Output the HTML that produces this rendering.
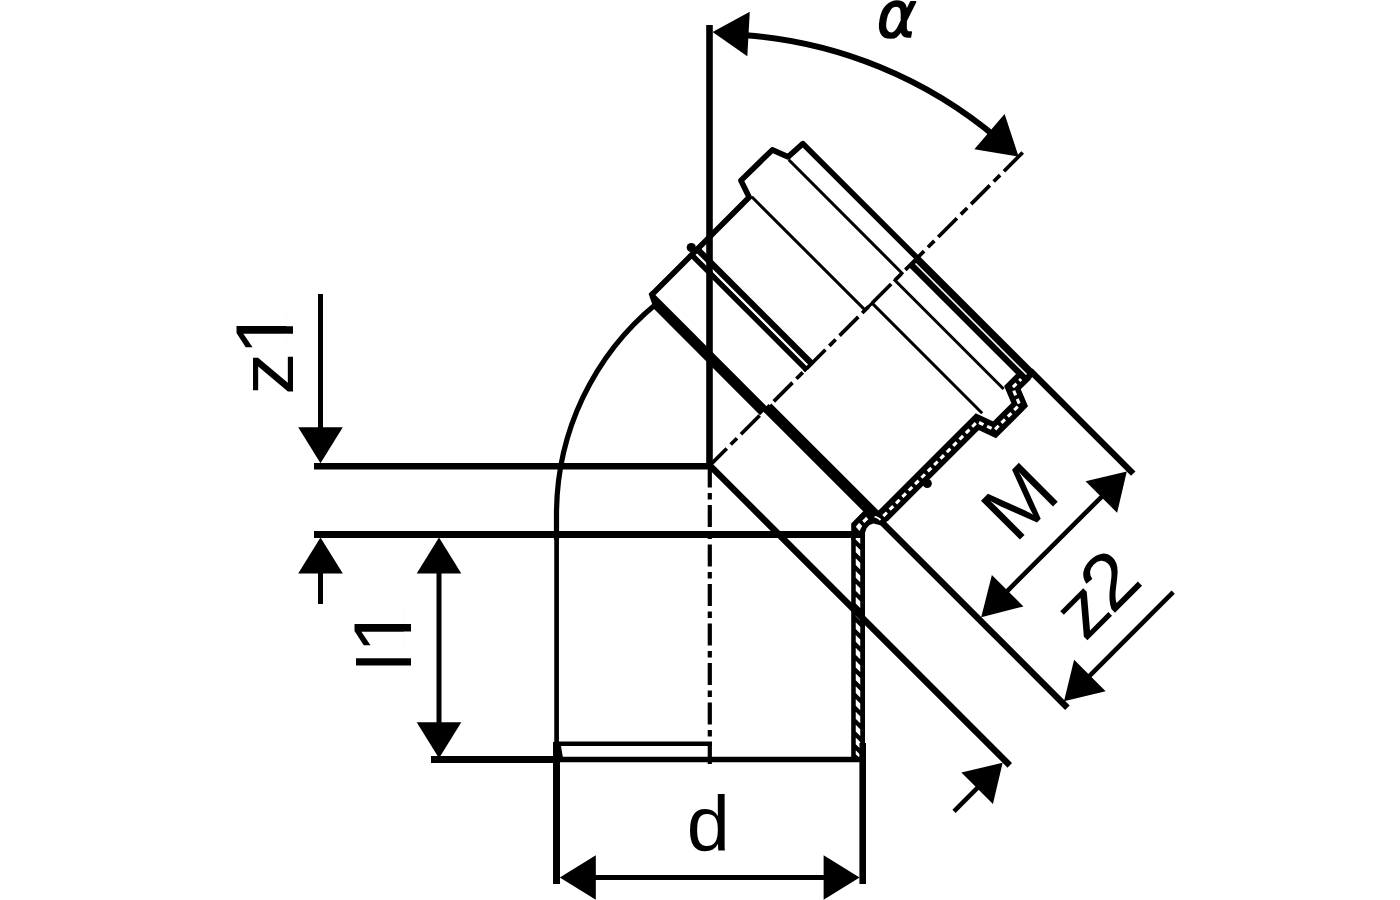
<!DOCTYPE html>
<html lang="en">
<head>
<meta charset="utf-8">
<title>Elbow 45 dimension drawing</title>
<style>
html,body{margin:0;padding:0;background:#fff;}
body{width:1400px;height:900px;overflow:hidden;}
svg{display:block;}
svg line,svg polyline,svg path{stroke:#000;fill:none;stroke-linecap:butt;}
svg .f{fill:#000;stroke:none;}
svg text{font-family:"Liberation Sans",sans-serif;font-size:78px;fill:#000;}
</style>
</head>
<body>
<svg width="1400" height="900" viewBox="0 0 1400 900">
<rect x="0" y="0" width="1400" height="900" fill="#fff"/>
<defs>
<clipPath id="c1"><path clip-rule="evenodd" d="M-20,-100 H140 V40 H-20 Z M39.18,-6.89 H57.12 V6 H39.18 Z M64.17,-6.89 H82.11 V6 H64.17 Z"/></clipPath>
<clipPath id="c2"><path clip-rule="evenodd" d="M-20,-100 H140 V40 H-20 Z M18.86,-6.89 H36.80 V6 H18.86 Z M43.85,-6.89 H61.79 V6 H43.85 Z"/></clipPath>
</defs>
<g>
<polyline points="883.19,515.76 977.24,421.71 994.56,429.84 1019.67,404.74 1012.45,387.63 1025.89,374.20" stroke-width="14.10" stroke-linejoin="miter"/>
<circle class="f" cx="927.25" cy="483.44" r="4.6"/>
<line x1="858.10" y1="534.00" x2="858.10" y2="760.00" stroke-width="13.80" />
<polygon class="f" points="851.20,540.00 851.20,523.40 863.25,511.37 878.46,510.60 888.43,520.57 881.30,525.50 873.50,523.60 869.50,525.00 866.60,528.20 864.95,533.00 864.95,540.00"/>
<path d="M883.34,516.04 L977.24,421.71 L994.56,429.84 L1019.67,404.74 L1012.45,387.63 L1024.83,375.26" style="stroke:#fff" stroke-width="3.1" stroke-dasharray="5 4" stroke-linejoin="round"/>
<polygon points="859.1,522.8 855.8,526.7 859.4,531.1 862.2,526.1" style="fill:#fff"/>
<line x1="863.30" y1="521.90" x2="867.20" y2="518.00" stroke-width="3.20" style="stroke:#fff"/>
<path d="M870.5,515.6 Q876.5,516.2 880.6,520.0" style="stroke:#fff" stroke-width="1.8"/>
<g transform="translate(858,0) skewY(45) translate(-858,0)"><line x1="858.00" y1="534.90" x2="858.00" y2="756.50" stroke-width="4.50" style="stroke:#fff" stroke-dasharray="6.8 6"/></g>
</g>
<g>
<line x1="709.50" y1="25.00" x2="709.50" y2="467.00" stroke-width="6.60" />
<line x1="709.80" y1="465.50" x2="709.80" y2="764.00" stroke-width="4.20" stroke-dasharray="22 5.5 6.5 5.5"/>
<line x1="1022.71" y1="152.52" x2="709.81" y2="465.41" stroke-width="3.70" stroke-dasharray="26.5 5.5 9 5.5"/>
<path d="M745.98,35.24 A442.1,442.1 0 0 1 997.45,138.38" stroke-width="6"/>
<polygon class="f" points="712.60,32.00 749.78,11.73 747.31,56.26"/>
<polygon class="f" points="1018.60,156.60 974.36,149.16 1004.60,113.97"/>
<line x1="314.00" y1="466.30" x2="709.50" y2="466.30" stroke-width="6.60" />
<line x1="314.00" y1="534.50" x2="862.00" y2="534.50" stroke-width="6.80" />
<line x1="431.00" y1="759.50" x2="556.50" y2="759.50" stroke-width="6.80" />
<line x1="556.00" y1="759.50" x2="862.00" y2="759.50" stroke-width="5.60" />
<polygon class="f" points="558.5,745 560.8,745 563,758 558.5,758"/>
<line x1="556.00" y1="743.70" x2="712.00" y2="743.70" stroke-width="4.60" />
<line x1="556.60" y1="510.00" x2="556.60" y2="745.00" stroke-width="4.70" />
<line x1="556.50" y1="742.00" x2="556.50" y2="884.00" stroke-width="7.00" />
<line x1="862.70" y1="743.00" x2="862.70" y2="884.00" stroke-width="6.60" />
<path d="M556.5,540 L556.5,514.65 A272.6,272.6 0 0 1 656.71,303.40" stroke-width="5.2"/>
<line x1="590.00" y1="877.50" x2="830.00" y2="877.50" stroke-width="5.00" />
<polygon class="f" points="559.80,877.50 595.80,855.20 595.80,899.80"/>
<polygon class="f" points="859.60,877.50 823.60,899.80 823.60,855.20"/>
<line x1="320.50" y1="294.00" x2="320.50" y2="430.00" stroke-width="5.00" />
<polygon class="f" points="320.50,463.20 298.20,427.20 342.80,427.20"/>
<line x1="320.50" y1="570.00" x2="320.50" y2="604.00" stroke-width="5.00" />
<polygon class="f" points="320.50,537.60 342.80,573.60 298.20,573.60"/>
<line x1="439.00" y1="570.00" x2="439.00" y2="725.00" stroke-width="5.00" />
<polygon class="f" points="439.00,537.60 461.30,573.60 416.70,573.60"/>
<polygon class="f" points="439.00,758.20 416.70,722.20 461.30,722.20"/>
<polygon class="f" points="651.41,291.04 648.58,293.87 653.81,308.86 760.09,415.14 767.79,407.43"/>
<polygon class="f" points="763.34,411.46 771.33,403.47 879.52,511.66 871.53,519.65"/>
<polyline points="652.04,294.50 749.20,197.35 740.92,180.45 772.32,149.90 788.09,156.90 802.87,143.68 916.99,257.81" stroke-width="5.60" stroke-linejoin="round"/>
<polygon class="f" points="687.89,254.98 691.71,251.16 808.74,368.18 804.92,372.00"/>
<polygon class="f" points="693.27,249.60 697.72,245.15 814.75,362.17 810.29,366.63"/>
<polygon class="f" points="802.80,369.88 812.63,360.05 814.96,362.39 805.13,372.22"/>
<circle class="f" cx="691.29" cy="247.48" r="4.6"/>
<polyline points="751.74,196.78 865.09,310.13 872.09,303.13 982.19,413.23" stroke-width="3.00" />
<polyline points="788.73,159.80 902.07,273.15 894.93,280.29 1003.61,388.97" stroke-width="3.00" />
<polygon class="f" points="908.37,266.43 919.12,255.68 1036.50,373.06 1025.75,383.81"/>
<line x1="915.51" y1="263.53" x2="1026.53" y2="374.55" stroke-width="1.60" style="stroke:#fff"/>
<line x1="1030.34" y1="370.73" x2="1133.23" y2="473.61" stroke-width="6.30" />
<line x1="880.37" y1="520.71" x2="1067.40" y2="707.74" stroke-width="6.40" />
<line x1="709.60" y1="465.20" x2="1009.77" y2="765.37" stroke-width="6.40" />
<line x1="1004.82" y1="593.54" x2="1103.81" y2="494.54" stroke-width="4.60" />
<polygon class="f" points="981.20,617.16 991.88,574.94 1023.41,606.48"/>
<polygon class="f" points="1126.79,471.56 1117.11,512.79 1085.57,481.25"/>
<line x1="1088.33" y1="677.05" x2="1173.18" y2="592.20" stroke-width="4.60" />
<polygon class="f" points="1064.00,701.37 1074.11,659.73 1105.65,691.26"/>
<line x1="953.98" y1="811.40" x2="979.43" y2="785.94" stroke-width="4.60" />
<polygon class="f" points="1002.63,762.75 992.94,803.97 961.40,772.44"/>
</g>
<g>
<text transform="translate(708.2,851)" text-anchor="middle" style="font-size:77.5px">d</text>
<text clip-path="url(#c1)" transform="translate(293,394.9) rotate(-90) scale(1.070,1)"><tspan style="font-size:75.5px" textLength="39.64" lengthAdjust="spacingAndGlyphs">z</tspan><tspan dx="-2.89" style="font-size:81px">1</tspan></text>
<text clip-path="url(#c2)" transform="translate(411,671.0) rotate(-90) scale(1.070,1)"><tspan style="font-size:76.7px">l</tspan><tspan dx="-0.60" style="font-size:81px">1</tspan></text>
<text transform="translate(1015.21,544.25) rotate(-45)" style="font-size:80px">M</text>
<text transform="translate(1084.93,642.83) rotate(-45) scale(1.070,1)"><tspan style="font-size:75.5px" textLength="39.64" lengthAdjust="spacingAndGlyphs">z</tspan><tspan dx="-3.89" style="font-size:78.5px">2</tspan></text>
<text transform="translate(876.9,36.5) scale(0.94,1)" style="font-family:'DejaVu Sans','Liberation Sans',sans-serif;font-style:oblique;font-size:63.6px;stroke:#000;stroke-width:1.7px;stroke-linejoin:round">α</text>
</g>
</svg>
</body>
</html>
